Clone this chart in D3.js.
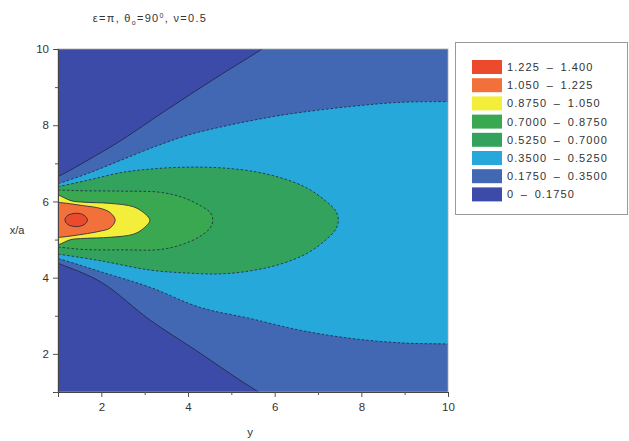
<!DOCTYPE html>
<head>
  <meta charset="utf-8">
  <script src="https://d3js.org/d3.v7.min.js"></script>
  <style>
    body { margin:0; background:#fff; }
    text { font-family: 'Liberation Sans', Arial, sans-serif; fill:#333; }
    .tick text { font-size: 11.5px; fill:#333; }
    .axis path, .axis line { stroke:#555; }
    .contour { fill:none; stroke:#1e2540; stroke-width:0.8; }
    .dashed { stroke-dasharray: 2.5,2; }
    .legend text { font-size: 11px; letter-spacing: 1.1px; }
  </style>
</head>
<body>
<script>
// band labels and colours, lowest first
var bands = ["0\u2002\u2013\u20020.1750", "0.1750\u2002\u2013\u20020.3500", "0.3500\u2002\u2013\u20020.5250", "0.5250\u2002\u2013\u20020.7000",
             "0.7000\u2002\u2013\u20020.8750", "0.8750\u2002\u2013\u20021.050", "1.050\u2002\u2013\u20021.225", "1.225\u2002\u2013\u20021.400"];
var bandColors = ["#3b4ba7", "#4268b3", "#27a8da", "#33a25c", "#3aa850", "#f3ee3a", "#f2703a", "#ec4a2c"];

var xTicks = [2, 4, 6, 8, 10];
var xMinor = [1, 3, 5, 7, 9];
var yTicks = [2, 4, 6, 8, 10];
var yMinor = [1, 3, 5, 7, 9];

// contour lines, as [y, x/a] points
var c0175Upper = [[0.5, 6.4], [1, 6.65], [1.7, 7.09], [2.47, 7.61], [3.24, 8.2], [4.0, 8.77], [4.78, 9.34], [5.7, 9.99], [6.2, 10.36]];
var c0175Lower = [[0.5, 4.6], [1, 4.38], [2, 3.88], [3.12, 2.89], [4.2, 2.08], [5.2, 1.31], [5.7, 0.95], [6.1, 0.65]];
var c035Upper = [[0.5, 6.35], [1, 6.47], [1.7, 6.74], [2.47, 7.09], [3.24, 7.44], [4.0, 7.74], [4.78, 7.96], [5.55, 8.14], [6.31, 8.29], [7.74, 8.49], [8.9, 8.6], [10, 8.62], [10.5, 8.62]];
var c035Lower = [[0.5, 4.62], [1, 4.5], [2, 4.15], [3.12, 3.75], [4.28, 3.22], [5.43, 2.93], [6.59, 2.62], [7.74, 2.41], [8.9, 2.29], [10, 2.26], [10.5, 2.26]];
var c0525Upper = [[0.5, 6.3], [1, 6.39], [1.7, 6.56], [2.47, 6.76], [3.24, 6.86], [4.0, 6.9], [4.78, 6.88], [5.55, 6.78], [6.2, 6.6], [6.75, 6.35], [7.17, 6.02], [7.41, 5.75], [7.47, 5.51]];
var c0525Lower = [[0.5, 4.7], [1, 4.62], [2, 4.44], [3.12, 4.2], [4, 4.12], [4.78, 4.1], [5.55, 4.2], [6.2, 4.38], [6.75, 4.64], [7.17, 4.98], [7.41, 5.27], [7.47, 5.51]];
var c07Upper = [[0.5, 6.3], [1, 6.3], [1.58, 6.28], [2.5, 6.27], [3.36, 6.24], [3.89, 6.1], [4.3, 5.88], [4.52, 5.7], [4.57, 5.51]];
var c07Lower = [[0.5, 4.8], [1, 4.8], [1.58, 4.74], [2.5, 4.73], [3.36, 4.74], [3.89, 4.88], [4.3, 5.1], [4.52, 5.32], [4.57, 5.51]];
var c0875Upper = [[0.5, 6.3], [1, 6.17], [1.3, 6.02], [1.6, 5.98], [2.2, 5.95], [2.74, 5.86], [2.97, 5.71], [3.12, 5.51]];
var c0875Lower = [[0.5, 4.72], [1, 4.86], [1.3, 5.0], [1.6, 5.03], [2.2, 5.06], [2.74, 5.14], [2.97, 5.29], [3.12, 5.51]];
var c105Upper = [[0.5, 6.0], [1.05, 5.97], [1.58, 5.89], [1.97, 5.82], [2.2, 5.71], [2.32, 5.51]];
var c105Lower = [[0.5, 5.02], [1.05, 5.06], [1.58, 5.14], [1.97, 5.22], [2.2, 5.3], [2.32, 5.51]];
var c1225Loop = [[1.16, 5.52], [1.22, 5.63], [1.42, 5.69], [1.6, 5.64], [1.68, 5.51], [1.6, 5.39], [1.42, 5.34], [1.22, 5.4]];

var margin = {top: 49, left: 58};
var width = 390, height = 343;

var svg = d3.select("body").append("svg")
    .attr("width", 629)
    .attr("height", 441);

var g = svg.append("g")
    .attr("transform", "translate(" + margin.left + "," + margin.top + ")");

var x = d3.scaleLinear().domain([1, 10]).range([0, width]);
var y = d3.scaleLinear().domain([1, 10]).range([height, 0]);

g.append("defs").append("clipPath")
    .attr("id", "clip")
  .append("rect")
    .attr("width", width)
    .attr("height", height);

var openLine = d3.line()
    .x(d => x(d[0]))
    .y(d => y(d[1]))
    .curve(d3.curveCatmullRom);

var closedLine = d3.line()
    .x(d => x(d[0]))
    .y(d => y(d[1]))
    .curve(d3.curveCatmullRomClosed);

// open band: upper curve, off-plot corners, lower curve back
function bandPath(upper, lower) {
  var lo = lower.slice().reverse();
  var ux = upper[upper.length - 1], lx = lo[0];
  return openLine(upper) +
    "L" + x(12) + "," + y(ux[1] + 1) +
    "L" + x(12) + "," + y(lx[1] - 1) +
    "L" + x(lx[0]) + "," + y(lx[1]) +
    openLine(lo).replace(/^M/, "L") + "Z";
}

function loop(upper, lower) {
  return upper.concat(lower.slice(0, -1).reverse());
}

var plot = g.append("g").attr("clip-path", "url(#clip)");

plot.append("rect")
    .attr("width", width)
    .attr("height", height)
    .style("fill", bandColors[0]);

plot.append("path").attr("d", bandPath(c0175Upper, c0175Lower)).style("fill", bandColors[1]);
plot.append("path").attr("d", bandPath(c035Upper, c035Lower)).style("fill", bandColors[2]);

var loops = [
  {pts: loop(c0525Upper, c0525Lower), color: bandColors[3], dashed: true},
  {pts: loop(c07Upper, c07Lower), color: bandColors[4], dashed: true},
  {pts: loop(c0875Upper, c0875Lower), color: bandColors[5], dashed: false},
  {pts: loop(c105Upper, c105Lower), color: bandColors[6], dashed: false},
  {pts: c1225Loop, color: bandColors[7], dashed: false}
];

loops.forEach(function(l) {
  plot.append("path")
      .attr("d", closedLine(l.pts))
      .style("fill", l.color);
});

// contour lines
[[c0175Upper, false], [c0175Lower, false], [c035Upper, true], [c035Lower, true]].forEach(function(c) {
  plot.append("path")
      .attr("class", "contour" + (c[1] ? " dashed" : ""))
      .attr("d", openLine(c[0]));
});
loops.forEach(function(l) {
  plot.append("path")
      .attr("class", "contour" + (l.dashed ? " dashed" : ""))
      .attr("d", closedLine(l.pts));
});

// frame
g.append("rect")
    .attr("width", width)
    .attr("height", height)
    .style("fill", "none")
    .style("stroke", "#aaa")
    .style("stroke-width", 0.8);

// axes
g.append("g")
    .attr("class", "axis")
    .attr("transform", "translate(0," + height + ")")
    .call(d3.axisBottom(x).tickValues(xTicks).tickSize(5).tickPadding(6));
g.append("g")
    .attr("class", "axis")
    .attr("transform", "translate(0," + height + ")")
    .call(d3.axisBottom(x).tickValues(xMinor).tickSize(3).tickFormat(""));
g.append("g")
    .attr("class", "axis")
    .call(d3.axisLeft(y).tickValues(yTicks).tickSize(5).tickPadding(4));
g.append("g")
    .attr("class", "axis")
    .call(d3.axisLeft(y).tickValues(yMinor).tickSize(3).tickFormat(""));
g.selectAll(".axis .domain").style("stroke", "#444");

// axis labels
svg.append("text")
    .attr("x", 250).attr("y", 436)
    .attr("text-anchor", "middle")
    .style("font-size", "11.5px")
    .text("y");
svg.append("text")
    .attr("x", 17).attr("y", 234)
    .attr("text-anchor", "middle")
    .style("font-size", "11px")
    .text("x/a");

// title
var title = svg.append("text")
    .attr("x", 150).attr("y", 22)
    .attr("text-anchor", "middle")
    .style("font-size", "11px")
    .style("letter-spacing", "1.3px");
title.append("tspan").text("\u03b5=\u03c0, \u03b8");
title.append("tspan").attr("dy", 3).style("font-size", "7px").text("o");
title.append("tspan").attr("dy", -3).text("=90");
title.append("tspan").attr("dy", -4).style("font-size", "7px").text("0");
title.append("tspan").attr("dy", 4).text(", \u03bd=0.5");

// legend
var legend = svg.append("g").attr("class", "legend");
legend.append("rect")
    .attr("x", 455.5).attr("y", 42.5)
    .attr("width", 172).attr("height", 172)
    .style("fill", "#fff")
    .style("stroke", "#999")
    .style("stroke-width", 1);

var rows = legend.selectAll("g.row")
    .data(d3.range(bands.length).reverse())
  .enter().append("g")
    .attr("class", "row")
    .attr("transform", (d, i) => "translate(472," + (60 + i * 18.2) + ")");
rows.append("rect")
    .attr("width", 30).attr("height", 14)
    .style("fill", d => bandColors[d]);
rows.append("text")
    .attr("x", 35).attr("y", 11)
    .text(d => bands[d]);
</script>
</body>
